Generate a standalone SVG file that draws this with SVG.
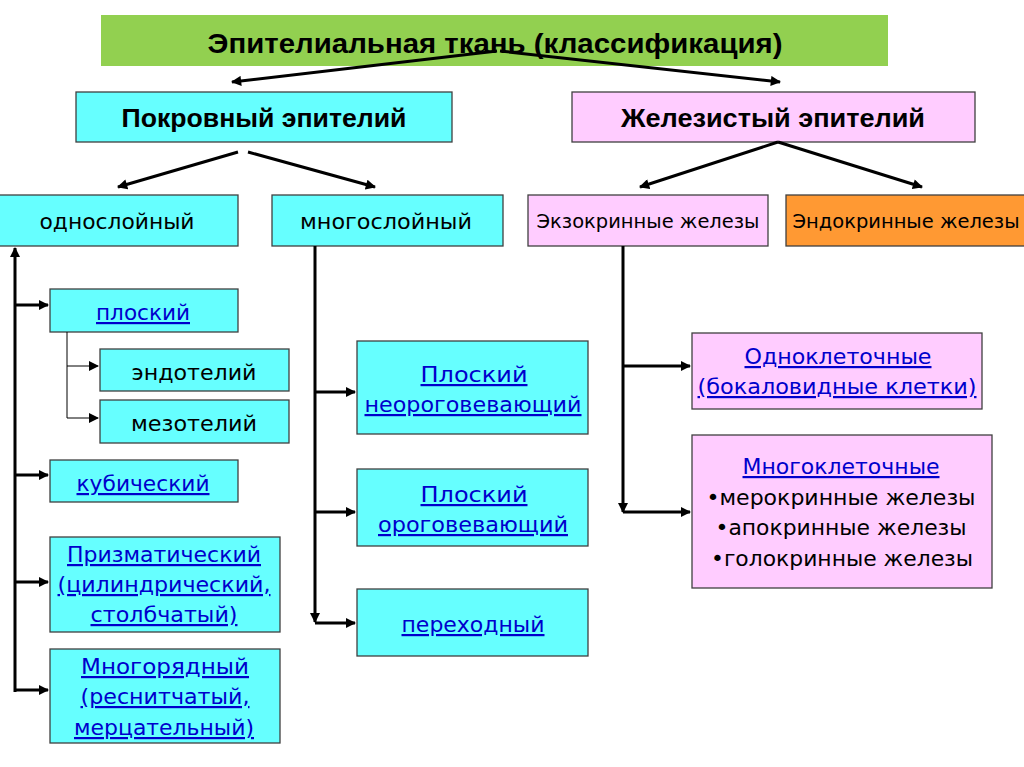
<svg xmlns="http://www.w3.org/2000/svg" width="1024" height="767" viewBox="0 0 1024 767">
<defs>
<marker id="ah" viewBox="0 0 10 10" refX="9" refY="5" markerWidth="3.6" markerHeight="3.4" orient="auto" markerUnits="strokeWidth"><path d="M0,0 L10,5 L0,10 z" fill="#000"/></marker>
<marker id="ahs" viewBox="0 0 10 10" refX="9" refY="5" markerWidth="10" markerHeight="10" orient="auto" markerUnits="strokeWidth"><path d="M0,0 L10,5 L0,10 z" fill="#000"/></marker>
</defs>
<style>
.box{stroke:#404040;stroke-width:1.3}
.cy{fill:#66FFFF}.pk{fill:#FFCCFF}.or{fill:#FF9933}.gr{fill:#92D050}
.t{font-family:"DejaVu Sans","Noto Sans",sans-serif;font-size:22px;fill:#000;text-anchor:middle}
.l{fill:#0000CC;text-decoration:underline}
.h{font-family:"Liberation Sans",Arial,sans-serif;font-weight:bold;font-size:28px;fill:#000;text-anchor:middle}
.c{stroke:#000;stroke-width:3;fill:none}
.c1{stroke:#000;stroke-width:1;fill:none}
</style>
<rect width="1024" height="767" fill="#fff"/>
<g id="title"><rect class="gr" x="101" y="15" width="787" height="51"/><text class="h" x="495" y="53" textLength="575" lengthAdjust="spacingAndGlyphs">Эпителиальная ткань (классификация)</text></g>
<g id="pokrov"><rect class="box cy" x="76" y="92" width="376" height="50"/><text class="h" x="264" y="127" textLength="285" lengthAdjust="spacingAndGlyphs" style="font-size:26px">Покровный эпителий</text></g>
<g id="zhelez"><rect class="box pk" x="572" y="92" width="403" height="50"/><text class="h" x="773" y="127" textLength="304" lengthAdjust="spacingAndGlyphs" style="font-size:26px">Железистый эпителий</text></g>
<g id="odnosl"><rect class="box cy" x="-2" y="195" width="240" height="51"/><text class="t" x="117" y="229" textLength="155" lengthAdjust="spacingAndGlyphs">однослойный</text></g>
<g id="mnogosl"><rect class="box cy" x="272" y="195" width="231" height="51"/><text class="t" x="386" y="229" textLength="172" lengthAdjust="spacingAndGlyphs">многослойный</text></g>
<g id="exo"><rect class="box pk" x="528" y="195" width="240" height="51"/><text class="t" x="648" y="228" textLength="223" lengthAdjust="spacingAndGlyphs" style="font-size:19px">Экзокринные железы</text></g>
<g id="endo"><rect class="box or" x="786" y="195" width="240" height="51"/><text class="t" x="906" y="228" textLength="227" lengthAdjust="spacingAndGlyphs" style="font-size:19px">Эндокринные железы</text></g>
<g id="ploskiy"><rect class="box cy" x="50" y="289" width="188" height="43"/><text class="t l" x="143" y="320" textLength="94" lengthAdjust="spacingAndGlyphs">плоский</text></g>
<g id="endotel"><rect class="box cy" x="100" y="349" width="189" height="42"/><text class="t" x="194" y="380" textLength="125" lengthAdjust="spacingAndGlyphs">эндотелий</text></g>
<g id="mezotel"><rect class="box cy" x="100" y="400" width="189" height="43"/><text class="t" x="194" y="431" textLength="126" lengthAdjust="spacingAndGlyphs">мезотелий</text></g>
<g id="kub"><rect class="box cy" x="50" y="460" width="188" height="42"/><text class="t l" x="143" y="491" textLength="133" lengthAdjust="spacingAndGlyphs">кубический</text></g>
<g id="prizm"><rect class="box cy" x="50" y="537" width="230" height="95"/>
<text class="t l" x="164" y="562" textLength="194" lengthAdjust="spacingAndGlyphs">Призматический</text>
<text class="t l" x="164" y="592" textLength="213" lengthAdjust="spacingAndGlyphs">(цилиндрический,</text>
<text class="t l" x="164" y="622" textLength="147" lengthAdjust="spacingAndGlyphs">столбчатый)</text></g>
<g id="mnogor"><rect class="box cy" x="50" y="649" width="230" height="94"/>
<text class="t l" x="165" y="674" textLength="168" lengthAdjust="spacingAndGlyphs">Многорядный </text>
<text class="t l" x="165" y="704" textLength="169" lengthAdjust="spacingAndGlyphs">(реснитчатый,</text>
<text class="t l" x="164" y="735" textLength="180" lengthAdjust="spacingAndGlyphs">мерцательный)</text></g>
<g id="neorog"><rect class="box cy" x="357" y="341" width="231" height="93"/>
<text class="t l" x="474" y="382" textLength="107" lengthAdjust="spacingAndGlyphs">Плоский </text>
<text class="t l" x="473" y="412" textLength="217" lengthAdjust="spacingAndGlyphs">неороговевающий</text></g>
<g id="orog"><rect class="box cy" x="357" y="469" width="231" height="77"/>
<text class="t l" x="474" y="502" textLength="107" lengthAdjust="spacingAndGlyphs">Плоский </text>
<text class="t l" x="473" y="532" textLength="190" lengthAdjust="spacingAndGlyphs">ороговевающий</text></g>
<g id="perehod"><rect class="box cy" x="357" y="589" width="231" height="67"/><text class="t l" x="473" y="632" textLength="143" lengthAdjust="spacingAndGlyphs">переходный</text></g>
<g id="odnokl"><rect class="box pk" x="692" y="333" width="290" height="76"/>
<text class="t l" x="838" y="364" textLength="187" lengthAdjust="spacingAndGlyphs">Одноклеточные</text>
<text class="t l" x="837" y="394" textLength="279" lengthAdjust="spacingAndGlyphs">(бокаловидные клетки)</text></g>
<g id="mnogokl"><rect class="box pk" x="692" y="435" width="300" height="153"/>
<text class="t l" x="841" y="474" textLength="197" lengthAdjust="spacingAndGlyphs">Многоклеточные</text>
<text class="t" x="841" y="505" textLength="269" lengthAdjust="spacingAndGlyphs">•мерокринные железы</text>
<text class="t" x="841" y="535" textLength="251" lengthAdjust="spacingAndGlyphs">•апокринные железы</text>
<text class="t" x="842" y="566" textLength="262" lengthAdjust="spacingAndGlyphs">•голокринные железы</text></g>
<g id="connectors">
<path class="c" d="M497,51 L232,82" marker-end="url(#ah)"/>
<path class="c" d="M500,51 L780,82" marker-end="url(#ah)"/>
<path class="c" d="M238,152 L118,187" marker-end="url(#ah)"/>
<path class="c" d="M248,152 L375,187" marker-end="url(#ah)"/>
<path class="c" d="M778,142 L640,187" marker-end="url(#ah)"/>
<path class="c" d="M778,142 L922,187" marker-end="url(#ah)"/>
<path class="c" d="M15,692 L15,248" marker-end="url(#ah)"/>
<path class="c" d="M15,305 L48,305" marker-end="url(#ah)"/>
<path class="c" d="M15,475 L48,475" marker-end="url(#ah)"/>
<path class="c" d="M15,582 L48,582" marker-end="url(#ah)"/>
<path class="c" d="M15,690 L48,690" marker-end="url(#ah)"/>
<path class="c1" d="M67,332 L67,418 L98,418" marker-end="url(#ahs)"/>
<path class="c1" d="M67,366 L98,366" marker-end="url(#ahs)"/>
<path class="c" d="M315,246 L315,622" marker-end="url(#ah)"/>
<path class="c" d="M315,392 L355,392" marker-end="url(#ah)"/>
<path class="c" d="M315,512 L355,512" marker-end="url(#ah)"/>
<path class="c" d="M315,623 L355,623" marker-end="url(#ah)"/>
<path class="c" d="M623,246 L623,512" marker-end="url(#ah)"/>
<path class="c" d="M623,366 L690,366" marker-end="url(#ah)"/>
<path class="c" d="M623,512 L690,512" marker-end="url(#ah)"/>
</g>
</svg>
